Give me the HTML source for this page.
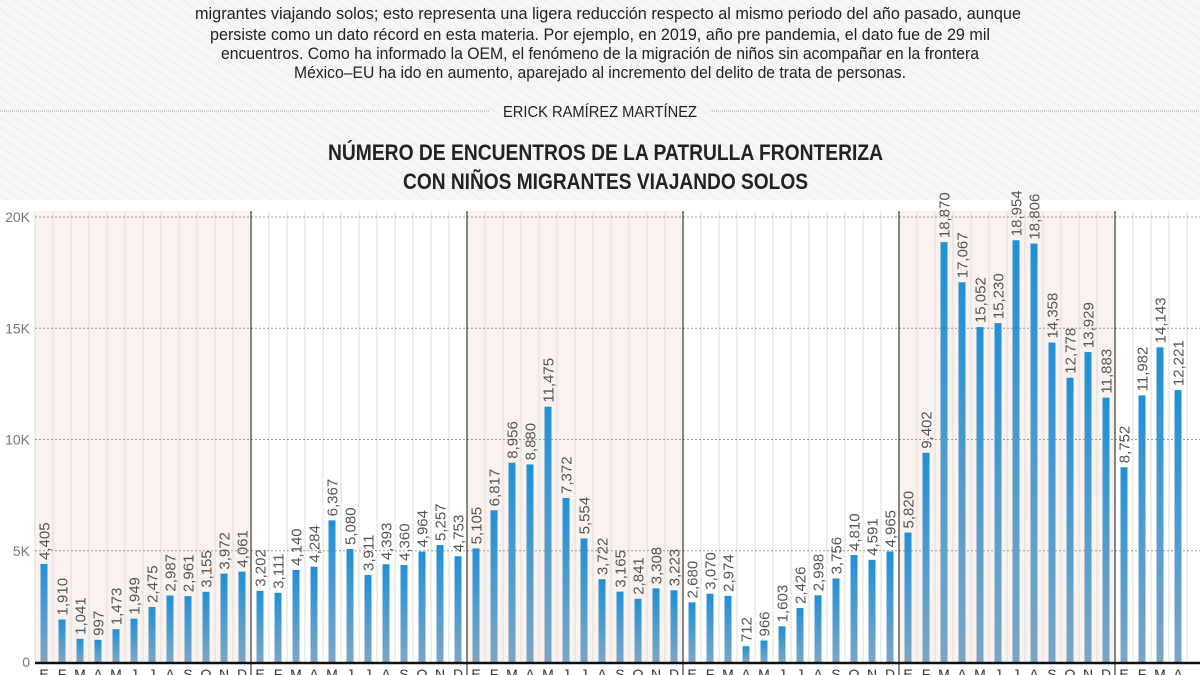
<!DOCTYPE html>
<html><head><meta charset="utf-8"><style>
html,body{margin:0;padding:0;background:#fff}
body{width:1200px;height:675px;overflow:hidden;position:relative}
</style></head><body>
<svg id="s" width="1200" height="675" xmlns="http://www.w3.org/2000/svg" style="position:absolute;left:0;top:0;font-family:'Liberation Sans Narrow','Liberation Sans',sans-serif">
<defs>
<pattern id="h" width="8" height="8" patternUnits="userSpaceOnUse" patternTransform="rotate(-55)"><rect width="8" height="8" fill="#f6f6f6"/><line x1="0" y1="0" x2="0" y2="8" stroke="#e8e8e8" stroke-width="1.5"/></pattern>
<linearGradient id="g" x1="0" y1="0" x2="0" y2="1"><stop offset="0" stop-color="#2190d6"/><stop offset="1" stop-color="#7ba6c6"/></linearGradient>
</defs>
<rect width="1200" height="200" fill="url(#h)"/>
<g fill="#222" font-size="17">
<text x="195" y="19" textLength="826" lengthAdjust="spacingAndGlyphs">migrantes viajando solos; esto representa una ligera reducción respecto al mismo periodo del año pasado, aunque</text>
<text x="210" y="40" textLength="780" lengthAdjust="spacingAndGlyphs">persiste como un dato récord en esta materia. Por ejemplo, en 2019, año pre pandemia, el dato fue de 29 mil</text>
<text x="221" y="59" textLength="758" lengthAdjust="spacingAndGlyphs">encuentros. Como ha informado la OEM, el fenómeno de la migración de niños sin acompañar en la frontera</text>
<text x="294" y="78" textLength="612" lengthAdjust="spacingAndGlyphs">México–EU ha ido en aumento, aparejado al incremento del delito de trata de personas.</text>
<text x="503" y="117" font-size="16" textLength="194" lengthAdjust="spacingAndGlyphs">ERICK RAMÍREZ MARTÍNEZ</text>
</g>
<line x1="0" y1="111" x2="490" y2="111" stroke="#aaa" stroke-dasharray="1,1"/>
<line x1="710" y1="111" x2="1200" y2="111" stroke="#aaa" stroke-dasharray="1,1"/>
<g fill="#222" font-weight="bold" font-size="22">
<text x="328" y="160" textLength="555" lengthAdjust="spacingAndGlyphs">NÚMERO DE ENCUENTROS DE LA PATRULLA FRONTERIZA</text>
<text x="403" y="189" textLength="405" lengthAdjust="spacingAndGlyphs">CON NIÑOS MIGRANTES VIAJANDO SOLOS</text>
</g>
<g id="c"></g>
</svg>
<script>
var d=[4405,1910,1041,997,1473,1949,2475,2987,2961,3155,3972,4061,3202,3111,4140,4284,6367,5080,3911,4393,4360,4964,5257,4753,5105,6817,8956,8880,11475,7372,5554,3722,3165,2841,3308,3223,2680,3070,2974,712,966,1603,2426,2998,3756,4810,4591,4965,5820,9402,18870,17067,15052,15230,18954,18806,14358,12778,13929,11883,8752,11982,14143,12221];
var m="EFMAMJJASOND";
var s='',x0=35,w=18,base=662,T=217,sc=(base-T)/20000;
for(var y=0;y<6;y++){var n=y<5?12:4;s+='<rect x="'+(x0+y*216)+'" y="'+(T-6)+'" width="'+(n*w)+'" height="'+(base-T+6)+'" fill="'+(y%2==0?'#faf2ef':'#fff')+'"/>';}
for(var i=0;i<=64;i++){s+='<line x1="'+(x0+i*w)+'" y1="'+(T-6)+'" x2="'+(x0+i*w)+'" y2="'+base+'" stroke="#dedede"/>';}
[0,5000,10000,15000,20000].forEach(function(v,k){var yy=base-v*sc;if(v>0)s+='<line x1="35" y1="'+yy+'" x2="1200" y2="'+yy+'" stroke="#999" stroke-dasharray="2,2"/>';s+='<text x="30" y="'+(yy+5)+'" text-anchor="end" font-size="14" fill="#777">'+(v?v/1000+'K':'0')+'</text>';});
for(var y=1;y<6;y++){var xx=x0+y*216;s+='<line x1="'+xx+'" y1="'+(T-6)+'" x2="'+xx+'" y2="675" stroke="#111"/>';}
d.forEach(function(v,i){var cx=x0+i*w+9,h=v*sc,yy=base-h;s+='<rect x="'+(cx-3.5)+'" y="'+yy+'" width="7" height="'+h+'" fill="url(#g)"/>';
s+='<text transform="translate('+(cx+5.5)+','+(yy-4)+') rotate(-90)" font-size="15" fill="#555">'+v.toLocaleString('en-US')+'</text>';
s+='<text x="'+cx+'" y="679" text-anchor="middle" font-size="14" fill="#333">'+m[i%12]+'</text>';});
s+='<line x1="35" y1="663" x2="1200" y2="663" stroke="#111" stroke-width="2.5"/>';
document.getElementById('c').innerHTML=s;
</script>
</body></html>
